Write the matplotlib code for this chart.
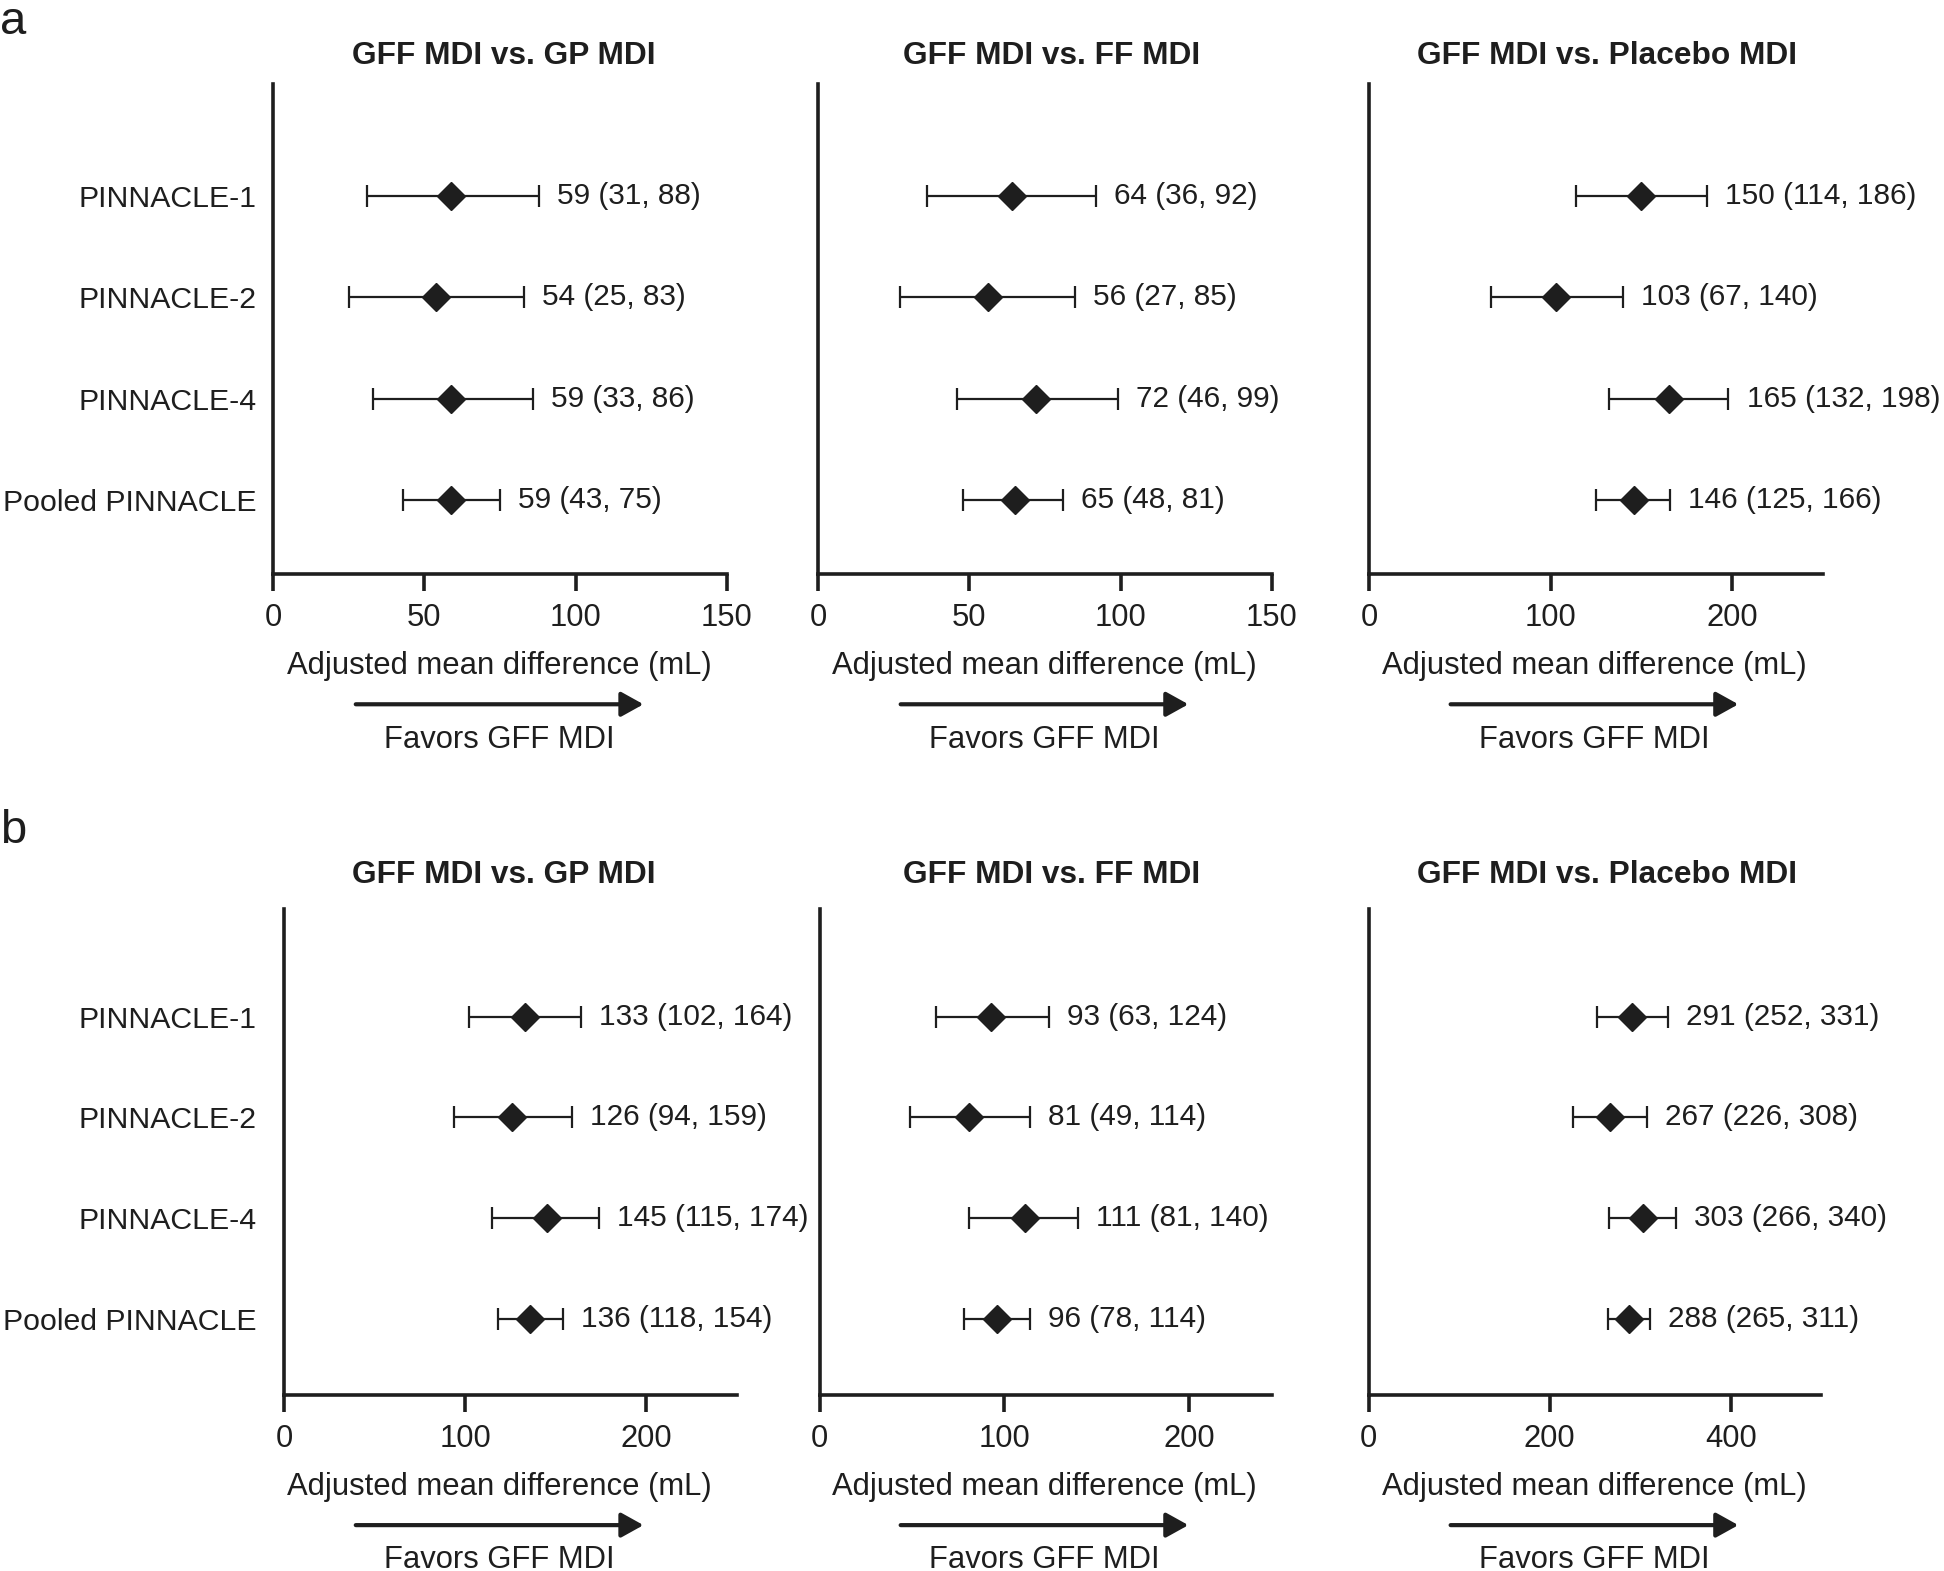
import numpy as np
import matplotlib
matplotlib.use("Agg")
import matplotlib.pyplot as plt

plt.rcParams['font.family'] = ['Liberation Sans', 'DejaVu Sans']

studies = ["PINNACLE-1", "PINNACLE-2", "PINNACLE-4", "Pooled PINNACLE"]
titles = ["GFF MDI vs. GP MDI", "GFF MDI vs. FF MDI", "GFF MDI vs. Placebo MDI"]

# panel a: estimate, lower, upper
a_gp_est = [59, 54, 59, 59]
a_gp_lo = [31, 25, 33, 43]
a_gp_hi = [88, 83, 86, 75]
a_ff_est = [64, 56, 72, 65]
a_ff_lo = [36, 27, 46, 48]
a_ff_hi = [92, 85, 99, 81]
a_pl_est = [150, 103, 165, 146]
a_pl_lo = [114, 67, 132, 125]
a_pl_hi = [186, 140, 198, 166]

# panel b
b_gp_est = [133, 126, 145, 136]
b_gp_lo = [102, 94, 115, 118]
b_gp_hi = [164, 159, 174, 154]
b_ff_est = [93, 81, 111, 96]
b_ff_lo = [63, 49, 81, 78]
b_ff_hi = [124, 114, 140, 114]
b_pl_est = [291, 267, 303, 288]
b_pl_lo = [252, 226, 266, 265]
b_pl_hi = [331, 308, 340, 311]

a_xlims = [150, 150, 250]
a_ticks = [[0, 50, 100, 150], [0, 50, 100, 150], [0, 100, 200]]
b_xlims = [250, 245, 500]
b_ticks = [[0, 100, 200], [0, 100, 200], [0, 200, 400]]

ink = '#1e1e1e'
fs = 22.3
fs_val = 21.4
W, H = 1944, 1571
fig = plt.figure(figsize=(W / 100, H / 100), dpi=100)

# layout (fig fractions)
a_lefts = [0.1404, 0.4208, 0.7042]
b_lefts = [0.1461, 0.4216, 0.7040]
ax_w = 0.2335
col_centers = [0.2570, 0.5373, 0.8202]
title_centers = [0.2589, 0.5408, 0.8265]


def forest(ax, est, lo, hi, xmax, ticks, ylims, show_labels, lab_pad):
    y = np.arange(len(est))
    est = np.array(est)
    err = [est - np.array(lo), np.array(hi) - est]
    ax.errorbar(est, y, xerr=err, fmt='D', color=ink, ms=14.5, elinewidth=1.6,
                capsize=8, capthick=1.6, clip_on=False, zorder=3)
    for yi, e, l, h in zip(y, est, lo, hi):
        ax.annotate(f"{e} ({l}, {h})", xy=(h, yi), xytext=(13, 0), textcoords='offset points',
                    ha='left', va='center', fontsize=fs_val, color=ink, annotation_clip=False)
    ax.set_xlim(0, xmax)
    ax.set_ylim(*ylims)
    ax.set_xticks(ticks)
    ax.set_xticklabels([str(t) for t in ticks])
    ax.spines['top'].set_visible(False)
    ax.spines['right'].set_visible(False)
    for s in ['left', 'bottom']:
        ax.spines[s].set_linewidth(2.6)
        ax.spines[s].set_color(ink)
    ax.tick_params(axis='x', length=12, width=2.6, color=ink, labelsize=fs,
                   labelcolor=ink, pad=9)
    if show_labels:
        ax.set_yticks(y)
        ax.set_yticklabels(studies)
        ax.tick_params(axis='y', length=0, labelsize=21.8, labelcolor=ink, pad=lab_pad)
    else:
        ax.set_yticks([])
    ax.patch.set_alpha(0)


a_data = [(a_gp_est, a_gp_lo, a_gp_hi), (a_ff_est, a_ff_lo, a_ff_hi), (a_pl_est, a_pl_lo, a_pl_hi)]
b_data = [(b_gp_est, b_gp_lo, b_gp_hi), (b_ff_est, b_ff_lo, b_ff_hi), (b_pl_est, b_pl_lo, b_pl_hi)]

for i in range(3):
    ax = fig.add_axes([a_lefts[i], 0.6346, ax_w, 0.3117])
    forest(ax, *a_data[i], a_xlims[i], a_ticks[i], (3.73, -1.1), i == 0, 11.5)
    ax = fig.add_axes([b_lefts[i], 0.1122, 0.2328, 0.3094])
    forest(ax, *b_data[i], b_xlims[i], b_ticks[i], (3.75, -1.07), i == 0, 19.5)

# titles, x labels, arrows
for (ty, xy, ay, fy) in [(0.9645, 0.5762, 0.5517, 0.5288), (0.4428, 0.0537, 0.0292, 0.0071)]:
    for i in range(3):
        fig.text(title_centers[i], ty, titles[i], ha='center', va='center',
                 fontsize=22.8, fontweight='bold', color=ink)
        c = col_centers[i]
        fig.text(c, xy, "Adjusted mean difference (mL)", ha='center', va='center',
                 fontsize=fs, color=ink)
        fig.text(c, fy, "Favors GFF MDI", ha='center', va='center',
                 fontsize=fs, color=ink)
        fig.add_artist(matplotlib.patches.FancyArrowPatch(
            (c - 0.074, ay), (c + 0.074, ay), transform=fig.transFigure,
            arrowstyle='-|>,head_length=0.9,head_width=0.5', mutation_scale=15,
            lw=3, color=ink, shrinkA=0, shrinkB=0))

fig.text(0.0, 0.986, "a", ha='left', va='center', fontsize=34, color=ink)
fig.text(0.0, 0.4712, "b", ha='left', va='center', fontsize=34, color=ink)

fig.savefig("out.png", dpi=100)
